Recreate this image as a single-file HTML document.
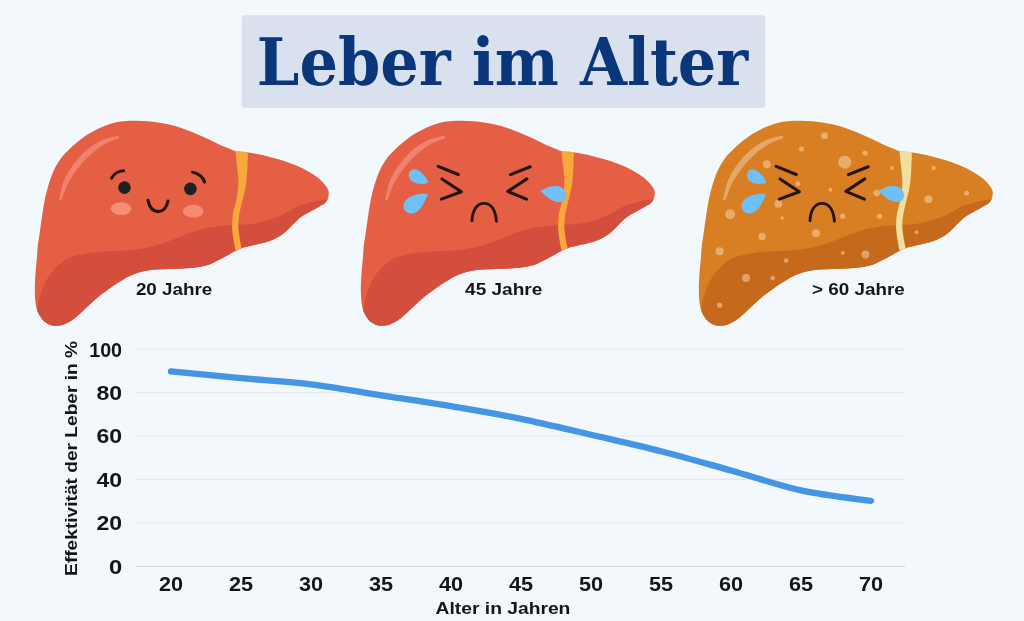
<!DOCTYPE html>
<html lang="de"><head><meta charset="utf-8"><title>Leber im Alter</title>
<style>html,body{margin:0;padding:0;background:#f3f8fd;}svg{display:block;}</style></head>
<body>
<svg width="1024" height="621" viewBox="0 0 1024 621">
<rect width="1024" height="621" fill="#f3f8fd"/>
<rect x="241.7" y="15.2" width="523.5" height="92.6" rx="3" fill="#d9e0ee"/>
<text x="256.8" y="85" font-family="'DejaVu Serif Condensed', 'DejaVu Serif', 'Liberation Serif', serif" font-weight="bold" font-size="65.5" fill="#0a377c" textLength="491.5" lengthAdjust="spacingAndGlyphs">Leber im Alter</text>
<g transform="translate(0 0)">
<clipPath id="c0"><path d="M46.9 190.8C47.8 187.4 48.5 184.8 49.5 181.8C50.5 178.8 51.5 175.5 52.7 172.7C53.9 169.9 55.3 167.3 56.6 165.0C57.9 162.7 59.2 160.7 60.5 159.0C61.8 157.3 62.1 156.7 64.1 154.6C66.0 152.5 69.5 149.1 72.2 146.6C74.9 144.1 77.5 141.8 80.2 139.7C82.9 137.6 85.6 135.8 88.3 134.1C91.0 132.4 93.6 131.0 96.3 129.7C99.0 128.3 101.7 127.1 104.4 126.0C107.1 124.9 109.8 123.9 112.4 123.2C115.0 122.5 117.7 122.0 120.0 121.6C122.3 121.2 123.7 121.1 126.0 120.9C128.3 120.8 130.1 120.7 133.7 120.7C137.2 120.8 142.8 120.8 147.3 121.2C151.9 121.6 156.9 122.4 161.0 123.1C165.1 123.8 168.8 124.5 172.0 125.3C175.2 126.0 177.3 126.7 180.0 127.6C182.7 128.5 185.3 129.5 188.0 130.5C190.7 131.5 193.4 132.6 196.1 133.7C198.8 134.8 201.4 136.1 204.1 137.3C206.8 138.5 209.5 139.8 212.2 141.1C214.9 142.4 217.5 143.7 220.2 144.9C222.9 146.1 225.8 147.2 228.3 148.2C230.9 149.2 232.4 150.3 235.5 151.0C238.6 151.7 242.7 151.6 246.8 152.2C250.9 152.8 256.2 153.8 260.0 154.6C263.8 155.4 266.5 156.2 269.7 157.0C272.9 157.8 276.1 158.5 279.3 159.4C282.5 160.3 285.8 161.5 289.0 162.7C292.2 163.9 295.4 165.1 298.6 166.5C301.8 167.9 305.1 169.5 308.3 171.4C311.5 173.3 315.4 175.7 318.0 177.7C320.6 179.7 322.2 181.6 323.8 183.4C325.4 185.2 326.8 186.8 327.6 188.5C328.4 190.2 328.8 191.5 328.8 193.3C328.8 195.1 328.3 197.4 327.6 199.1C326.9 200.8 326.0 202.0 324.7 203.2C323.4 204.4 322.1 204.8 319.7 206.2C317.2 207.6 313.0 210.0 310.0 211.7C307.0 213.4 304.2 214.6 301.6 216.5C299.0 218.4 296.5 221.0 294.3 223.1C292.1 225.2 290.5 227.2 288.3 229.2C286.1 231.2 284.1 233.3 281.1 235.2C278.1 237.1 274.6 239.1 270.2 240.7C265.8 242.3 259.4 243.7 255.0 244.8C250.6 245.9 246.8 246.5 243.5 247.5C240.2 248.5 238.5 249.3 235.3 250.9C232.1 252.5 228.5 254.9 224.4 257.1C220.3 259.3 215.3 262.2 210.7 263.9C206.1 265.6 201.6 266.5 197.0 267.3C192.4 268.1 188.0 268.3 183.4 268.6C178.8 268.9 174.3 268.7 169.7 268.9C165.1 269.1 160.6 269.2 156.0 269.6C151.4 270.1 146.9 270.5 142.3 271.6C137.8 272.7 132.5 274.6 128.7 276.4C124.8 278.1 122.4 280.1 119.2 282.1C116.0 284.1 112.7 286.1 109.5 288.4C106.3 290.6 103.1 293.0 99.9 295.6C96.7 298.2 93.2 301.4 90.2 304.1C87.2 306.8 84.6 309.4 81.8 311.9C79.0 314.4 76.1 317.2 73.3 319.2C70.5 321.2 67.5 322.9 64.9 324.0C62.3 325.1 60.0 325.6 57.6 325.8C55.2 326.0 52.7 325.8 50.4 325.0C48.1 324.2 45.6 322.8 43.7 321.0C41.8 319.2 40.2 316.8 38.9 314.3C37.6 311.8 36.8 308.9 36.1 305.9C35.5 302.9 35.2 299.8 35.0 296.2C34.8 292.6 34.8 288.2 34.9 284.2C35.0 280.2 35.3 276.1 35.6 272.1C35.9 268.1 36.3 264.5 36.7 260.0C37.1 255.5 37.5 248.6 37.9 245.0C38.3 241.4 38.5 241.5 38.9 238.5C39.3 235.5 39.9 231.0 40.5 226.9C41.1 222.8 41.8 218.1 42.4 214.0C43.0 209.9 43.5 206.3 44.3 202.4C45.0 198.5 46.0 194.2 46.9 190.8Z"/></clipPath>
<path d="M46.9 190.8C47.8 187.4 48.5 184.8 49.5 181.8C50.5 178.8 51.5 175.5 52.7 172.7C53.9 169.9 55.3 167.3 56.6 165.0C57.9 162.7 59.2 160.7 60.5 159.0C61.8 157.3 62.1 156.7 64.1 154.6C66.0 152.5 69.5 149.1 72.2 146.6C74.9 144.1 77.5 141.8 80.2 139.7C82.9 137.6 85.6 135.8 88.3 134.1C91.0 132.4 93.6 131.0 96.3 129.7C99.0 128.3 101.7 127.1 104.4 126.0C107.1 124.9 109.8 123.9 112.4 123.2C115.0 122.5 117.7 122.0 120.0 121.6C122.3 121.2 123.7 121.1 126.0 120.9C128.3 120.8 130.1 120.7 133.7 120.7C137.2 120.8 142.8 120.8 147.3 121.2C151.9 121.6 156.9 122.4 161.0 123.1C165.1 123.8 168.8 124.5 172.0 125.3C175.2 126.0 177.3 126.7 180.0 127.6C182.7 128.5 185.3 129.5 188.0 130.5C190.7 131.5 193.4 132.6 196.1 133.7C198.8 134.8 201.4 136.1 204.1 137.3C206.8 138.5 209.5 139.8 212.2 141.1C214.9 142.4 217.5 143.7 220.2 144.9C222.9 146.1 225.8 147.2 228.3 148.2C230.9 149.2 232.4 150.3 235.5 151.0C238.6 151.7 242.7 151.6 246.8 152.2C250.9 152.8 256.2 153.8 260.0 154.6C263.8 155.4 266.5 156.2 269.7 157.0C272.9 157.8 276.1 158.5 279.3 159.4C282.5 160.3 285.8 161.5 289.0 162.7C292.2 163.9 295.4 165.1 298.6 166.5C301.8 167.9 305.1 169.5 308.3 171.4C311.5 173.3 315.4 175.7 318.0 177.7C320.6 179.7 322.2 181.6 323.8 183.4C325.4 185.2 326.8 186.8 327.6 188.5C328.4 190.2 328.8 191.5 328.8 193.3C328.8 195.1 328.3 197.4 327.6 199.1C326.9 200.8 326.0 202.0 324.7 203.2C323.4 204.4 322.1 204.8 319.7 206.2C317.2 207.6 313.0 210.0 310.0 211.7C307.0 213.4 304.2 214.6 301.6 216.5C299.0 218.4 296.5 221.0 294.3 223.1C292.1 225.2 290.5 227.2 288.3 229.2C286.1 231.2 284.1 233.3 281.1 235.2C278.1 237.1 274.6 239.1 270.2 240.7C265.8 242.3 259.4 243.7 255.0 244.8C250.6 245.9 246.8 246.5 243.5 247.5C240.2 248.5 238.5 249.3 235.3 250.9C232.1 252.5 228.5 254.9 224.4 257.1C220.3 259.3 215.3 262.2 210.7 263.9C206.1 265.6 201.6 266.5 197.0 267.3C192.4 268.1 188.0 268.3 183.4 268.6C178.8 268.9 174.3 268.7 169.7 268.9C165.1 269.1 160.6 269.2 156.0 269.6C151.4 270.1 146.9 270.5 142.3 271.6C137.8 272.7 132.5 274.6 128.7 276.4C124.8 278.1 122.4 280.1 119.2 282.1C116.0 284.1 112.7 286.1 109.5 288.4C106.3 290.6 103.1 293.0 99.9 295.6C96.7 298.2 93.2 301.4 90.2 304.1C87.2 306.8 84.6 309.4 81.8 311.9C79.0 314.4 76.1 317.2 73.3 319.2C70.5 321.2 67.5 322.9 64.9 324.0C62.3 325.1 60.0 325.6 57.6 325.8C55.2 326.0 52.7 325.8 50.4 325.0C48.1 324.2 45.6 322.8 43.7 321.0C41.8 319.2 40.2 316.8 38.9 314.3C37.6 311.8 36.8 308.9 36.1 305.9C35.5 302.9 35.2 299.8 35.0 296.2C34.8 292.6 34.8 288.2 34.9 284.2C35.0 280.2 35.3 276.1 35.6 272.1C35.9 268.1 36.3 264.5 36.7 260.0C37.1 255.5 37.5 248.6 37.9 245.0C38.3 241.4 38.5 241.5 38.9 238.5C39.3 235.5 39.9 231.0 40.5 226.9C41.1 222.8 41.8 218.1 42.4 214.0C43.0 209.9 43.5 206.3 44.3 202.4C45.0 198.5 46.0 194.2 46.9 190.8Z" fill="#e45f44"/>
<g clip-path="url(#c0)">
<path d="M332.0 197.0C331.1 197.3 328.8 198.4 326.4 199.0C323.9 199.6 320.4 200.1 317.3 200.8C314.2 201.5 310.8 202.3 307.6 203.2C304.4 204.1 301.2 204.8 298.0 206.2C294.8 207.6 291.5 210.0 288.3 211.7C285.1 213.4 282.2 215.0 278.6 216.5C275.0 218.0 271.4 219.4 266.6 220.7C261.8 222.0 256.0 223.3 250.0 224.1C244.0 224.8 236.4 224.8 230.6 225.2C224.8 225.6 220.2 225.9 215.0 226.7C209.8 227.5 204.6 228.4 199.4 229.8C194.2 231.2 189.0 233.3 183.8 235.3C178.6 237.3 173.3 239.7 168.1 241.6C162.9 243.5 157.7 245.2 152.5 246.5C147.3 247.8 142.1 248.7 136.9 249.4C131.7 250.1 126.6 250.5 121.3 250.8C116.0 251.1 109.8 251.1 105.0 251.4C100.2 251.7 97.1 251.8 92.6 252.5C88.1 253.2 81.9 254.5 78.1 255.3C74.3 256.1 72.2 256.7 70.0 257.5C67.8 258.3 67.2 258.4 64.9 260.0C62.6 261.6 59.0 264.6 56.4 267.2C53.8 269.8 51.2 272.9 49.2 275.7C47.2 278.5 45.7 281.2 44.3 284.2C42.9 287.2 41.7 290.8 40.7 293.8C39.7 296.8 38.9 299.6 38.3 302.3C37.7 305.0 37.5 307.4 37.0 310.0C36.5 312.6 36.2 315.3 35.5 318.0C34.8 320.7 33.4 324.7 33.0 326.0L20 340L340 340Z" fill="#d34e3c"/>
<path d="M235.2 149.0C235.5 151.7 236.4 160.2 236.9 165.1C237.4 170.0 238.1 174.5 238.3 178.7C238.5 182.9 238.3 186.4 237.9 190.3C237.5 194.2 236.7 198.0 235.9 201.9C235.1 205.8 233.6 209.6 233.0 213.5C232.4 217.4 232.1 221.2 232.1 225.1C232.1 229.0 232.4 232.5 233.0 236.7C233.6 240.8 235.0 247.8 235.4 250.0L242.0 250.0C241.6 247.8 240.0 240.8 239.4 236.7C238.8 232.5 238.3 229.0 238.3 225.1C238.3 221.2 238.8 217.4 239.4 213.5C240.0 209.6 241.2 205.8 242.1 201.9C243.0 198.0 244.2 194.2 245.0 190.3C245.8 186.4 246.2 182.9 246.6 178.7C247.0 174.5 247.3 169.9 247.5 165.1C247.7 160.3 247.9 152.5 248.0 150.0Z" fill="#f9a83c"/>
<path d="M118.1 136.4C115.4 137.1 107.2 138.3 101.9 140.7C96.6 143.1 91.2 146.8 86.4 150.9C81.6 155.0 76.9 160.5 73.2 165.5C69.5 170.5 66.6 175.2 64.4 180.9C62.1 186.6 60.5 196.5 59.7 199.6L60.9 200.0C62.0 197.1 65.1 187.8 67.8 182.5C70.5 177.2 73.4 173.0 77.0 168.3C80.6 163.7 85.1 158.5 89.6 154.5C94.0 150.5 98.9 146.9 103.7 144.1C108.5 141.3 116.0 138.7 118.5 137.6Z" fill="#f0826f" stroke="#f0826f" stroke-width="1.2" stroke-linejoin="round"/>
</g>
<g fill="none" stroke="#25130f" stroke-width="3.1" stroke-linecap="round">
<path d="M111.6 178.2C113.5 174 118.5 171 123.6 170.8"/>
<path d="M192.6 172.2C198 173 203 177 204.6 182"/>
<path d="M148 200.4C149.5 208 153 211.6 158 211.6C163 211.6 166.5 208 168 201"/>
</g>
<circle cx="124.5" cy="187.6" r="6.3" fill="#1b2224"/>
<circle cx="190.4" cy="188.9" r="6.3" fill="#1b2224"/>
<ellipse cx="121.1" cy="208.6" rx="10.3" ry="6.4" fill="#f58d79"/>
<ellipse cx="193.2" cy="211.2" rx="10.3" ry="6.4" fill="#f78b72"/>
</g>

<g transform="translate(326 0)">
<clipPath id="c326"><path d="M46.9 190.8C47.8 187.4 48.5 184.8 49.5 181.8C50.5 178.8 51.5 175.5 52.7 172.7C53.9 169.9 55.3 167.3 56.6 165.0C57.9 162.7 59.2 160.7 60.5 159.0C61.8 157.3 62.1 156.7 64.1 154.6C66.0 152.5 69.5 149.1 72.2 146.6C74.9 144.1 77.5 141.8 80.2 139.7C82.9 137.6 85.6 135.8 88.3 134.1C91.0 132.4 93.6 131.0 96.3 129.7C99.0 128.3 101.7 127.1 104.4 126.0C107.1 124.9 109.8 123.9 112.4 123.2C115.0 122.5 117.7 122.0 120.0 121.6C122.3 121.2 123.7 121.1 126.0 120.9C128.3 120.8 130.1 120.7 133.7 120.7C137.2 120.8 142.8 120.8 147.3 121.2C151.9 121.6 156.9 122.4 161.0 123.1C165.1 123.8 168.8 124.5 172.0 125.3C175.2 126.0 177.3 126.7 180.0 127.6C182.7 128.5 185.3 129.5 188.0 130.5C190.7 131.5 193.4 132.6 196.1 133.7C198.8 134.8 201.4 136.1 204.1 137.3C206.8 138.5 209.5 139.8 212.2 141.1C214.9 142.4 217.5 143.7 220.2 144.9C222.9 146.1 225.8 147.2 228.3 148.2C230.9 149.2 232.4 150.3 235.5 151.0C238.6 151.7 242.7 151.6 246.8 152.2C250.9 152.8 256.2 153.8 260.0 154.6C263.8 155.4 266.5 156.2 269.7 157.0C272.9 157.8 276.1 158.5 279.3 159.4C282.5 160.3 285.8 161.5 289.0 162.7C292.2 163.9 295.4 165.1 298.6 166.5C301.8 167.9 305.1 169.5 308.3 171.4C311.5 173.3 315.4 175.7 318.0 177.7C320.6 179.7 322.2 181.6 323.8 183.4C325.4 185.2 326.8 186.8 327.6 188.5C328.4 190.2 328.8 191.5 328.8 193.3C328.8 195.1 328.3 197.4 327.6 199.1C326.9 200.8 326.0 202.0 324.7 203.2C323.4 204.4 322.1 204.8 319.7 206.2C317.2 207.6 313.0 210.0 310.0 211.7C307.0 213.4 304.2 214.6 301.6 216.5C299.0 218.4 296.5 221.0 294.3 223.1C292.1 225.2 290.5 227.2 288.3 229.2C286.1 231.2 284.1 233.3 281.1 235.2C278.1 237.1 274.6 239.1 270.2 240.7C265.8 242.3 259.4 243.7 255.0 244.8C250.6 245.9 246.8 246.5 243.5 247.5C240.2 248.5 238.5 249.3 235.3 250.9C232.1 252.5 228.5 254.9 224.4 257.1C220.3 259.3 215.3 262.2 210.7 263.9C206.1 265.6 201.6 266.5 197.0 267.3C192.4 268.1 188.0 268.3 183.4 268.6C178.8 268.9 174.3 268.7 169.7 268.9C165.1 269.1 160.6 269.2 156.0 269.6C151.4 270.1 146.9 270.5 142.3 271.6C137.8 272.7 132.5 274.6 128.7 276.4C124.8 278.1 122.4 280.1 119.2 282.1C116.0 284.1 112.7 286.1 109.5 288.4C106.3 290.6 103.1 293.0 99.9 295.6C96.7 298.2 93.2 301.4 90.2 304.1C87.2 306.8 84.6 309.4 81.8 311.9C79.0 314.4 76.1 317.2 73.3 319.2C70.5 321.2 67.5 322.9 64.9 324.0C62.3 325.1 60.0 325.6 57.6 325.8C55.2 326.0 52.7 325.8 50.4 325.0C48.1 324.2 45.6 322.8 43.7 321.0C41.8 319.2 40.2 316.8 38.9 314.3C37.6 311.8 36.8 308.9 36.1 305.9C35.5 302.9 35.2 299.8 35.0 296.2C34.8 292.6 34.8 288.2 34.9 284.2C35.0 280.2 35.3 276.1 35.6 272.1C35.9 268.1 36.3 264.5 36.7 260.0C37.1 255.5 37.5 248.6 37.9 245.0C38.3 241.4 38.5 241.5 38.9 238.5C39.3 235.5 39.9 231.0 40.5 226.9C41.1 222.8 41.8 218.1 42.4 214.0C43.0 209.9 43.5 206.3 44.3 202.4C45.0 198.5 46.0 194.2 46.9 190.8Z"/></clipPath>
<path d="M46.9 190.8C47.8 187.4 48.5 184.8 49.5 181.8C50.5 178.8 51.5 175.5 52.7 172.7C53.9 169.9 55.3 167.3 56.6 165.0C57.9 162.7 59.2 160.7 60.5 159.0C61.8 157.3 62.1 156.7 64.1 154.6C66.0 152.5 69.5 149.1 72.2 146.6C74.9 144.1 77.5 141.8 80.2 139.7C82.9 137.6 85.6 135.8 88.3 134.1C91.0 132.4 93.6 131.0 96.3 129.7C99.0 128.3 101.7 127.1 104.4 126.0C107.1 124.9 109.8 123.9 112.4 123.2C115.0 122.5 117.7 122.0 120.0 121.6C122.3 121.2 123.7 121.1 126.0 120.9C128.3 120.8 130.1 120.7 133.7 120.7C137.2 120.8 142.8 120.8 147.3 121.2C151.9 121.6 156.9 122.4 161.0 123.1C165.1 123.8 168.8 124.5 172.0 125.3C175.2 126.0 177.3 126.7 180.0 127.6C182.7 128.5 185.3 129.5 188.0 130.5C190.7 131.5 193.4 132.6 196.1 133.7C198.8 134.8 201.4 136.1 204.1 137.3C206.8 138.5 209.5 139.8 212.2 141.1C214.9 142.4 217.5 143.7 220.2 144.9C222.9 146.1 225.8 147.2 228.3 148.2C230.9 149.2 232.4 150.3 235.5 151.0C238.6 151.7 242.7 151.6 246.8 152.2C250.9 152.8 256.2 153.8 260.0 154.6C263.8 155.4 266.5 156.2 269.7 157.0C272.9 157.8 276.1 158.5 279.3 159.4C282.5 160.3 285.8 161.5 289.0 162.7C292.2 163.9 295.4 165.1 298.6 166.5C301.8 167.9 305.1 169.5 308.3 171.4C311.5 173.3 315.4 175.7 318.0 177.7C320.6 179.7 322.2 181.6 323.8 183.4C325.4 185.2 326.8 186.8 327.6 188.5C328.4 190.2 328.8 191.5 328.8 193.3C328.8 195.1 328.3 197.4 327.6 199.1C326.9 200.8 326.0 202.0 324.7 203.2C323.4 204.4 322.1 204.8 319.7 206.2C317.2 207.6 313.0 210.0 310.0 211.7C307.0 213.4 304.2 214.6 301.6 216.5C299.0 218.4 296.5 221.0 294.3 223.1C292.1 225.2 290.5 227.2 288.3 229.2C286.1 231.2 284.1 233.3 281.1 235.2C278.1 237.1 274.6 239.1 270.2 240.7C265.8 242.3 259.4 243.7 255.0 244.8C250.6 245.9 246.8 246.5 243.5 247.5C240.2 248.5 238.5 249.3 235.3 250.9C232.1 252.5 228.5 254.9 224.4 257.1C220.3 259.3 215.3 262.2 210.7 263.9C206.1 265.6 201.6 266.5 197.0 267.3C192.4 268.1 188.0 268.3 183.4 268.6C178.8 268.9 174.3 268.7 169.7 268.9C165.1 269.1 160.6 269.2 156.0 269.6C151.4 270.1 146.9 270.5 142.3 271.6C137.8 272.7 132.5 274.6 128.7 276.4C124.8 278.1 122.4 280.1 119.2 282.1C116.0 284.1 112.7 286.1 109.5 288.4C106.3 290.6 103.1 293.0 99.9 295.6C96.7 298.2 93.2 301.4 90.2 304.1C87.2 306.8 84.6 309.4 81.8 311.9C79.0 314.4 76.1 317.2 73.3 319.2C70.5 321.2 67.5 322.9 64.9 324.0C62.3 325.1 60.0 325.6 57.6 325.8C55.2 326.0 52.7 325.8 50.4 325.0C48.1 324.2 45.6 322.8 43.7 321.0C41.8 319.2 40.2 316.8 38.9 314.3C37.6 311.8 36.8 308.9 36.1 305.9C35.5 302.9 35.2 299.8 35.0 296.2C34.8 292.6 34.8 288.2 34.9 284.2C35.0 280.2 35.3 276.1 35.6 272.1C35.9 268.1 36.3 264.5 36.7 260.0C37.1 255.5 37.5 248.6 37.9 245.0C38.3 241.4 38.5 241.5 38.9 238.5C39.3 235.5 39.9 231.0 40.5 226.9C41.1 222.8 41.8 218.1 42.4 214.0C43.0 209.9 43.5 206.3 44.3 202.4C45.0 198.5 46.0 194.2 46.9 190.8Z" fill="#e45f44"/>
<g clip-path="url(#c326)">
<path d="M332.0 197.0C331.1 197.3 328.8 198.4 326.4 199.0C323.9 199.6 320.4 200.1 317.3 200.8C314.2 201.5 310.8 202.3 307.6 203.2C304.4 204.1 301.2 204.8 298.0 206.2C294.8 207.6 291.5 210.0 288.3 211.7C285.1 213.4 282.2 215.0 278.6 216.5C275.0 218.0 271.4 219.4 266.6 220.7C261.8 222.0 256.0 223.3 250.0 224.1C244.0 224.8 236.4 224.8 230.6 225.2C224.8 225.6 220.2 225.9 215.0 226.7C209.8 227.5 204.6 228.4 199.4 229.8C194.2 231.2 189.0 233.3 183.8 235.3C178.6 237.3 173.3 239.7 168.1 241.6C162.9 243.5 157.7 245.2 152.5 246.5C147.3 247.8 142.1 248.7 136.9 249.4C131.7 250.1 126.6 250.5 121.3 250.8C116.0 251.1 109.8 251.1 105.0 251.4C100.2 251.7 97.1 251.8 92.6 252.5C88.1 253.2 81.9 254.5 78.1 255.3C74.3 256.1 72.2 256.7 70.0 257.5C67.8 258.3 67.2 258.4 64.9 260.0C62.6 261.6 59.0 264.6 56.4 267.2C53.8 269.8 51.2 272.9 49.2 275.7C47.2 278.5 45.7 281.2 44.3 284.2C42.9 287.2 41.7 290.8 40.7 293.8C39.7 296.8 38.9 299.6 38.3 302.3C37.7 305.0 37.5 307.4 37.0 310.0C36.5 312.6 36.2 315.3 35.5 318.0C34.8 320.7 33.4 324.7 33.0 326.0L20 340L340 340Z" fill="#d34e3c"/>
<path d="M235.2 149.0C235.5 151.7 236.4 160.2 236.9 165.1C237.4 170.0 238.1 174.5 238.3 178.7C238.5 182.9 238.3 186.4 237.9 190.3C237.5 194.2 236.7 198.0 235.9 201.9C235.1 205.8 233.6 209.6 233.0 213.5C232.4 217.4 232.1 221.2 232.1 225.1C232.1 229.0 232.4 232.5 233.0 236.7C233.6 240.8 235.0 247.8 235.4 250.0L242.0 250.0C241.6 247.8 240.0 240.8 239.4 236.7C238.8 232.5 238.3 229.0 238.3 225.1C238.3 221.2 238.8 217.4 239.4 213.5C240.0 209.6 241.2 205.8 242.1 201.9C243.0 198.0 244.2 194.2 245.0 190.3C245.8 186.4 246.2 182.9 246.6 178.7C247.0 174.5 247.3 169.9 247.5 165.1C247.7 160.3 247.9 152.5 248.0 150.0Z" fill="#f9a83c"/>
<path d="M118.1 136.4C115.4 137.1 107.2 138.3 101.9 140.7C96.6 143.1 91.2 146.8 86.4 150.9C81.6 155.0 76.9 160.5 73.2 165.5C69.5 170.5 66.6 175.2 64.4 180.9C62.1 186.6 60.5 196.5 59.7 199.6L60.9 200.0C62.0 197.1 65.1 187.8 67.8 182.5C70.5 177.2 73.4 173.0 77.0 168.3C80.6 163.7 85.1 158.5 89.6 154.5C94.0 150.5 98.9 146.9 103.7 144.1C108.5 141.3 116.0 138.7 118.5 137.6Z" fill="#f0826f" stroke="#f0826f" stroke-width="1.2" stroke-linejoin="round"/>
</g>
<g transform="translate(-326 0)">
<g fill="none" stroke="#25130f" stroke-width="3.1" stroke-linecap="round" stroke-linejoin="round">
<path d="M438.2 166.4L458.3 174.5"/>
<path d="M442 179L461.3 191.8L441.5 199.1"/>
<path d="M530.2 166.8L510.5 174.6"/>
<path d="M526.8 178.9L507.8 191.4L526.4 199.1"/>
<path d="M472 220.8C472.5 210 477 203.4 484 203.4C491 203.4 495.5 210 496.4 221.2" stroke-width="2.9"/>
</g>
<path d="M428.3 182.7C424 184.5 416 184.5 411.5 181C407.5 177.5 408 171.5 412.5 169.6C417.5 167.8 425 174 428.3 182.7Z" fill="#6ec0f6"/>
<path d="M427.9 194.3C421 192.8 411 195 406 200C401.5 205 403 211.5 409 213.2C415 215 420 210 423 204.5C425 201 427 197 427.9 194.3Z" fill="#6ec0f6"/>
<path d="M540.4 190.9C545 187.5 552 185.5 557 186C563 186.8 566.5 191.5 566 196.5C565.5 201 561 203 556 201.8C550 200 544.5 195 540.4 190.9Z" fill="#6ec0f6"/>
</g>
</g>

<g transform="translate(664 0)">
<clipPath id="c664"><path d="M46.9 190.8C47.8 187.4 48.5 184.8 49.5 181.8C50.5 178.8 51.5 175.5 52.7 172.7C53.9 169.9 55.3 167.3 56.6 165.0C57.9 162.7 59.2 160.7 60.5 159.0C61.8 157.3 62.1 156.7 64.1 154.6C66.0 152.5 69.5 149.1 72.2 146.6C74.9 144.1 77.5 141.8 80.2 139.7C82.9 137.6 85.6 135.8 88.3 134.1C91.0 132.4 93.6 131.0 96.3 129.7C99.0 128.3 101.7 127.1 104.4 126.0C107.1 124.9 109.8 123.9 112.4 123.2C115.0 122.5 117.7 122.0 120.0 121.6C122.3 121.2 123.7 121.1 126.0 120.9C128.3 120.8 130.1 120.7 133.7 120.7C137.2 120.8 142.8 120.8 147.3 121.2C151.9 121.6 156.9 122.4 161.0 123.1C165.1 123.8 168.8 124.5 172.0 125.3C175.2 126.0 177.3 126.7 180.0 127.6C182.7 128.5 185.3 129.5 188.0 130.5C190.7 131.5 193.4 132.6 196.1 133.7C198.8 134.8 201.4 136.1 204.1 137.3C206.8 138.5 209.5 139.8 212.2 141.1C214.9 142.4 217.5 143.7 220.2 144.9C222.9 146.1 225.8 147.2 228.3 148.2C230.9 149.2 232.4 150.3 235.5 151.0C238.6 151.7 242.7 151.6 246.8 152.2C250.9 152.8 256.2 153.8 260.0 154.6C263.8 155.4 266.5 156.2 269.7 157.0C272.9 157.8 276.1 158.5 279.3 159.4C282.5 160.3 285.8 161.5 289.0 162.7C292.2 163.9 295.4 165.1 298.6 166.5C301.8 167.9 305.1 169.5 308.3 171.4C311.5 173.3 315.4 175.7 318.0 177.7C320.6 179.7 322.2 181.6 323.8 183.4C325.4 185.2 326.8 186.8 327.6 188.5C328.4 190.2 328.8 191.5 328.8 193.3C328.8 195.1 328.3 197.4 327.6 199.1C326.9 200.8 326.0 202.0 324.7 203.2C323.4 204.4 322.1 204.8 319.7 206.2C317.2 207.6 313.0 210.0 310.0 211.7C307.0 213.4 304.2 214.6 301.6 216.5C299.0 218.4 296.5 221.0 294.3 223.1C292.1 225.2 290.5 227.2 288.3 229.2C286.1 231.2 284.1 233.3 281.1 235.2C278.1 237.1 274.6 239.1 270.2 240.7C265.8 242.3 259.4 243.7 255.0 244.8C250.6 245.9 246.8 246.5 243.5 247.5C240.2 248.5 238.5 249.3 235.3 250.9C232.1 252.5 228.5 254.9 224.4 257.1C220.3 259.3 215.3 262.2 210.7 263.9C206.1 265.6 201.6 266.5 197.0 267.3C192.4 268.1 188.0 268.3 183.4 268.6C178.8 268.9 174.3 268.7 169.7 268.9C165.1 269.1 160.6 269.2 156.0 269.6C151.4 270.1 146.9 270.5 142.3 271.6C137.8 272.7 132.5 274.6 128.7 276.4C124.8 278.1 122.4 280.1 119.2 282.1C116.0 284.1 112.7 286.1 109.5 288.4C106.3 290.6 103.1 293.0 99.9 295.6C96.7 298.2 93.2 301.4 90.2 304.1C87.2 306.8 84.6 309.4 81.8 311.9C79.0 314.4 76.1 317.2 73.3 319.2C70.5 321.2 67.5 322.9 64.9 324.0C62.3 325.1 60.0 325.6 57.6 325.8C55.2 326.0 52.7 325.8 50.4 325.0C48.1 324.2 45.6 322.8 43.7 321.0C41.8 319.2 40.2 316.8 38.9 314.3C37.6 311.8 36.8 308.9 36.1 305.9C35.5 302.9 35.2 299.8 35.0 296.2C34.8 292.6 34.8 288.2 34.9 284.2C35.0 280.2 35.3 276.1 35.6 272.1C35.9 268.1 36.3 264.5 36.7 260.0C37.1 255.5 37.5 248.6 37.9 245.0C38.3 241.4 38.5 241.5 38.9 238.5C39.3 235.5 39.9 231.0 40.5 226.9C41.1 222.8 41.8 218.1 42.4 214.0C43.0 209.9 43.5 206.3 44.3 202.4C45.0 198.5 46.0 194.2 46.9 190.8Z"/></clipPath>
<path d="M46.9 190.8C47.8 187.4 48.5 184.8 49.5 181.8C50.5 178.8 51.5 175.5 52.7 172.7C53.9 169.9 55.3 167.3 56.6 165.0C57.9 162.7 59.2 160.7 60.5 159.0C61.8 157.3 62.1 156.7 64.1 154.6C66.0 152.5 69.5 149.1 72.2 146.6C74.9 144.1 77.5 141.8 80.2 139.7C82.9 137.6 85.6 135.8 88.3 134.1C91.0 132.4 93.6 131.0 96.3 129.7C99.0 128.3 101.7 127.1 104.4 126.0C107.1 124.9 109.8 123.9 112.4 123.2C115.0 122.5 117.7 122.0 120.0 121.6C122.3 121.2 123.7 121.1 126.0 120.9C128.3 120.8 130.1 120.7 133.7 120.7C137.2 120.8 142.8 120.8 147.3 121.2C151.9 121.6 156.9 122.4 161.0 123.1C165.1 123.8 168.8 124.5 172.0 125.3C175.2 126.0 177.3 126.7 180.0 127.6C182.7 128.5 185.3 129.5 188.0 130.5C190.7 131.5 193.4 132.6 196.1 133.7C198.8 134.8 201.4 136.1 204.1 137.3C206.8 138.5 209.5 139.8 212.2 141.1C214.9 142.4 217.5 143.7 220.2 144.9C222.9 146.1 225.8 147.2 228.3 148.2C230.9 149.2 232.4 150.3 235.5 151.0C238.6 151.7 242.7 151.6 246.8 152.2C250.9 152.8 256.2 153.8 260.0 154.6C263.8 155.4 266.5 156.2 269.7 157.0C272.9 157.8 276.1 158.5 279.3 159.4C282.5 160.3 285.8 161.5 289.0 162.7C292.2 163.9 295.4 165.1 298.6 166.5C301.8 167.9 305.1 169.5 308.3 171.4C311.5 173.3 315.4 175.7 318.0 177.7C320.6 179.7 322.2 181.6 323.8 183.4C325.4 185.2 326.8 186.8 327.6 188.5C328.4 190.2 328.8 191.5 328.8 193.3C328.8 195.1 328.3 197.4 327.6 199.1C326.9 200.8 326.0 202.0 324.7 203.2C323.4 204.4 322.1 204.8 319.7 206.2C317.2 207.6 313.0 210.0 310.0 211.7C307.0 213.4 304.2 214.6 301.6 216.5C299.0 218.4 296.5 221.0 294.3 223.1C292.1 225.2 290.5 227.2 288.3 229.2C286.1 231.2 284.1 233.3 281.1 235.2C278.1 237.1 274.6 239.1 270.2 240.7C265.8 242.3 259.4 243.7 255.0 244.8C250.6 245.9 246.8 246.5 243.5 247.5C240.2 248.5 238.5 249.3 235.3 250.9C232.1 252.5 228.5 254.9 224.4 257.1C220.3 259.3 215.3 262.2 210.7 263.9C206.1 265.6 201.6 266.5 197.0 267.3C192.4 268.1 188.0 268.3 183.4 268.6C178.8 268.9 174.3 268.7 169.7 268.9C165.1 269.1 160.6 269.2 156.0 269.6C151.4 270.1 146.9 270.5 142.3 271.6C137.8 272.7 132.5 274.6 128.7 276.4C124.8 278.1 122.4 280.1 119.2 282.1C116.0 284.1 112.7 286.1 109.5 288.4C106.3 290.6 103.1 293.0 99.9 295.6C96.7 298.2 93.2 301.4 90.2 304.1C87.2 306.8 84.6 309.4 81.8 311.9C79.0 314.4 76.1 317.2 73.3 319.2C70.5 321.2 67.5 322.9 64.9 324.0C62.3 325.1 60.0 325.6 57.6 325.8C55.2 326.0 52.7 325.8 50.4 325.0C48.1 324.2 45.6 322.8 43.7 321.0C41.8 319.2 40.2 316.8 38.9 314.3C37.6 311.8 36.8 308.9 36.1 305.9C35.5 302.9 35.2 299.8 35.0 296.2C34.8 292.6 34.8 288.2 34.9 284.2C35.0 280.2 35.3 276.1 35.6 272.1C35.9 268.1 36.3 264.5 36.7 260.0C37.1 255.5 37.5 248.6 37.9 245.0C38.3 241.4 38.5 241.5 38.9 238.5C39.3 235.5 39.9 231.0 40.5 226.9C41.1 222.8 41.8 218.1 42.4 214.0C43.0 209.9 43.5 206.3 44.3 202.4C45.0 198.5 46.0 194.2 46.9 190.8Z" fill="#d97f23"/>
<g clip-path="url(#c664)">
<path d="M332.0 197.0C331.1 197.3 328.8 198.4 326.4 199.0C323.9 199.6 320.4 200.1 317.3 200.8C314.2 201.5 310.8 202.3 307.6 203.2C304.4 204.1 301.2 204.8 298.0 206.2C294.8 207.6 291.5 210.0 288.3 211.7C285.1 213.4 282.2 215.0 278.6 216.5C275.0 218.0 271.4 219.4 266.6 220.7C261.8 222.0 256.0 223.3 250.0 224.1C244.0 224.8 236.4 224.8 230.6 225.2C224.8 225.6 220.2 225.9 215.0 226.7C209.8 227.5 204.6 228.4 199.4 229.8C194.2 231.2 189.0 233.3 183.8 235.3C178.6 237.3 173.3 239.7 168.1 241.6C162.9 243.5 157.7 245.2 152.5 246.5C147.3 247.8 142.1 248.7 136.9 249.4C131.7 250.1 126.6 250.5 121.3 250.8C116.0 251.1 109.8 251.1 105.0 251.4C100.2 251.7 97.1 251.8 92.6 252.5C88.1 253.2 81.9 254.5 78.1 255.3C74.3 256.1 72.2 256.7 70.0 257.5C67.8 258.3 67.2 258.4 64.9 260.0C62.6 261.6 59.0 264.6 56.4 267.2C53.8 269.8 51.2 272.9 49.2 275.7C47.2 278.5 45.7 281.2 44.3 284.2C42.9 287.2 41.7 290.8 40.7 293.8C39.7 296.8 38.9 299.6 38.3 302.3C37.7 305.0 37.5 307.4 37.0 310.0C36.5 312.6 36.2 315.3 35.5 318.0C34.8 320.7 33.4 324.7 33.0 326.0L20 340L340 340Z" fill="#c5691c"/>
<path d="M235.2 149.0C235.5 151.7 236.4 160.2 236.9 165.1C237.4 170.0 238.1 174.5 238.3 178.7C238.5 182.9 238.3 186.4 237.9 190.3C237.5 194.2 236.7 198.0 235.9 201.9C235.1 205.8 233.6 209.6 233.0 213.5C232.4 217.4 232.1 221.2 232.1 225.1C232.1 229.0 232.4 232.5 233.0 236.7C233.6 240.8 235.0 247.8 235.4 250.0L242.0 250.0C241.6 247.8 240.0 240.8 239.4 236.7C238.8 232.5 238.3 229.0 238.3 225.1C238.3 221.2 238.8 217.4 239.4 213.5C240.0 209.6 241.2 205.8 242.1 201.9C243.0 198.0 244.2 194.2 245.0 190.3C245.8 186.4 246.2 182.9 246.6 178.7C247.0 174.5 247.3 169.9 247.5 165.1C247.7 160.3 247.9 152.5 248.0 150.0Z" fill="#f1dfa0"/>
<path d="M118.1 136.4C115.4 137.1 107.2 138.3 101.9 140.7C96.6 143.1 91.2 146.8 86.4 150.9C81.6 155.0 76.9 160.5 73.2 165.5C69.5 170.5 66.6 175.2 64.4 180.9C62.1 186.6 60.5 196.5 59.7 199.6L60.9 200.0C62.0 197.1 65.1 187.8 67.8 182.5C70.5 177.2 73.4 173.0 77.0 168.3C80.6 163.7 85.1 158.5 89.6 154.5C94.0 150.5 98.9 146.9 103.7 144.1C108.5 141.3 116.0 138.7 118.5 137.6Z" fill="#e6a868" stroke="#e6a868" stroke-width="1.2" stroke-linejoin="round"/>
<circle cx="160.5" cy="135.8" r="3.5" fill="#f7d0a8" fill-opacity="0.55"/>
<circle cx="137.5" cy="149.0" r="2.5" fill="#f7d0a8" fill-opacity="0.55"/>
<circle cx="201.1" cy="153.1" r="2.7" fill="#f7d0a8" fill-opacity="0.55"/>
<circle cx="180.8" cy="162.2" r="6.5" fill="#f7d0a8" fill-opacity="0.55"/>
<circle cx="102.8" cy="164.2" r="4.0" fill="#f7d0a8" fill-opacity="0.55"/>
<circle cx="228.2" cy="168.0" r="2.0" fill="#f7d0a8" fill-opacity="0.55"/>
<circle cx="269.7" cy="168.0" r="2.2" fill="#f7d0a8" fill-opacity="0.55"/>
<circle cx="133.9" cy="183.7" r="2.5" fill="#f7d0a8" fill-opacity="0.55"/>
<circle cx="166.5" cy="189.7" r="2.0" fill="#f7d0a8" fill-opacity="0.55"/>
<circle cx="212.7" cy="193.1" r="3.3" fill="#f7d0a8" fill-opacity="0.55"/>
<circle cx="302.6" cy="193.1" r="2.5" fill="#f7d0a8" fill-opacity="0.55"/>
<circle cx="264.5" cy="199.3" r="4.0" fill="#f7d0a8" fill-opacity="0.55"/>
<circle cx="114.4" cy="203.8" r="4.0" fill="#f7d0a8" fill-opacity="0.55"/>
<circle cx="66.2" cy="214.3" r="5.0" fill="#f7d0a8" fill-opacity="0.55"/>
<circle cx="118.2" cy="218.1" r="1.8" fill="#f7d0a8" fill-opacity="0.55"/>
<circle cx="178.7" cy="216.2" r="2.7" fill="#f7d0a8" fill-opacity="0.55"/>
<circle cx="215.6" cy="216.3" r="2.7" fill="#f7d0a8" fill-opacity="0.55"/>
<circle cx="152.0" cy="233.2" r="4.0" fill="#f7d0a8" fill-opacity="0.55"/>
<circle cx="98.1" cy="236.5" r="3.7" fill="#f7d0a8" fill-opacity="0.55"/>
<circle cx="252.5" cy="232.2" r="2.0" fill="#f7d0a8" fill-opacity="0.55"/>
<circle cx="55.6" cy="251.2" r="4.0" fill="#f7d0a8" fill-opacity="0.55"/>
<circle cx="178.7" cy="252.9" r="2.0" fill="#f7d0a8" fill-opacity="0.55"/>
<circle cx="201.5" cy="254.5" r="4.0" fill="#f7d0a8" fill-opacity="0.55"/>
<circle cx="122.2" cy="260.6" r="2.3" fill="#f7d0a8" fill-opacity="0.55"/>
<circle cx="82.0" cy="278.0" r="4.0" fill="#f7d0a8" fill-opacity="0.55"/>
<circle cx="108.7" cy="278.0" r="2.3" fill="#f7d0a8" fill-opacity="0.55"/>
<circle cx="55.6" cy="305.3" r="2.7" fill="#f7d0a8" fill-opacity="0.55"/>
</g>
<g transform="translate(-326 0)">
<g fill="none" stroke="#25130f" stroke-width="3.1" stroke-linecap="round" stroke-linejoin="round">
<path d="M438.2 166.4L458.3 174.5"/>
<path d="M442 179L461.3 191.8L441.5 199.1"/>
<path d="M530.2 166.8L510.5 174.6"/>
<path d="M526.8 178.9L507.8 191.4L526.4 199.1"/>
<path d="M472 220.8C472.5 210 477 203.4 484 203.4C491 203.4 495.5 210 496.4 221.2" stroke-width="2.9"/>
</g>
<path d="M428.3 182.7C424 184.5 416 184.5 411.5 181C407.5 177.5 408 171.5 412.5 169.6C417.5 167.8 425 174 428.3 182.7Z" fill="#6ec0f6"/>
<path d="M427.9 194.3C421 192.8 411 195 406 200C401.5 205 403 211.5 409 213.2C415 215 420 210 423 204.5C425 201 427 197 427.9 194.3Z" fill="#6ec0f6"/>
<path d="M540.4 190.9C545 187.5 552 185.5 557 186C563 186.8 566.5 191.5 566 196.5C565.5 201 561 203 556 201.8C550 200 544.5 195 540.4 190.9Z" fill="#6ec0f6"/>
</g>
</g>

<text x="135.9" y="295" font-family="'Liberation Sans', sans-serif" font-weight="bold" font-size="17" fill="#14141a" textLength="76.4" lengthAdjust="spacingAndGlyphs">20 Jahre</text>
<text x="465.1" y="295" font-family="'Liberation Sans', sans-serif" font-weight="bold" font-size="17" fill="#14141a" textLength="77.2" lengthAdjust="spacingAndGlyphs">45 Jahre</text>
<text x="812.1" y="295" font-family="'Liberation Sans', sans-serif" font-weight="bold" font-size="17" fill="#14141a" textLength="92.6" lengthAdjust="spacingAndGlyphs">&gt; 60 Jahre</text>
<line x1="136" x2="905" y1="566.2" y2="566.2" stroke="#c9d0d9" stroke-width="1.1"/>
<text x="122.1" y="573.5" text-anchor="end" font-family="'Liberation Sans', sans-serif" font-weight="bold" font-size="19.6" fill="#14141a" textLength="13.2" lengthAdjust="spacingAndGlyphs">0</text>
<line x1="136" x2="905" y1="522.8" y2="522.8" stroke="#e4e9ef" stroke-width="1.1"/>
<text x="122.1" y="530.1" text-anchor="end" font-family="'Liberation Sans', sans-serif" font-weight="bold" font-size="19.6" fill="#14141a" textLength="25.6" lengthAdjust="spacingAndGlyphs">20</text>
<line x1="136" x2="905" y1="479.4" y2="479.4" stroke="#e4e9ef" stroke-width="1.1"/>
<text x="122.1" y="486.7" text-anchor="end" font-family="'Liberation Sans', sans-serif" font-weight="bold" font-size="19.6" fill="#14141a" textLength="25.6" lengthAdjust="spacingAndGlyphs">40</text>
<line x1="136" x2="905" y1="436.0" y2="436.0" stroke="#e4e9ef" stroke-width="1.1"/>
<text x="122.1" y="443.3" text-anchor="end" font-family="'Liberation Sans', sans-serif" font-weight="bold" font-size="19.6" fill="#14141a" textLength="25.6" lengthAdjust="spacingAndGlyphs">60</text>
<line x1="136" x2="905" y1="392.6" y2="392.6" stroke="#e4e9ef" stroke-width="1.1"/>
<text x="122.1" y="399.9" text-anchor="end" font-family="'Liberation Sans', sans-serif" font-weight="bold" font-size="19.6" fill="#14141a" textLength="25.6" lengthAdjust="spacingAndGlyphs">80</text>
<line x1="136" x2="905" y1="349.2" y2="349.2" stroke="#e4e9ef" stroke-width="1.1"/>
<text x="122.1" y="356.5" text-anchor="end" font-family="'Liberation Sans', sans-serif" font-weight="bold" font-size="19.6" fill="#14141a" textLength="32.9" lengthAdjust="spacingAndGlyphs">100</text>
<text x="171.1" y="590.6" text-anchor="middle" font-family="'Liberation Sans', sans-serif" font-weight="bold" font-size="19.6" fill="#14141a" textLength="24.1" lengthAdjust="spacingAndGlyphs">20</text>
<text x="241.1" y="590.6" text-anchor="middle" font-family="'Liberation Sans', sans-serif" font-weight="bold" font-size="19.6" fill="#14141a" textLength="24.1" lengthAdjust="spacingAndGlyphs">25</text>
<text x="311.1" y="590.6" text-anchor="middle" font-family="'Liberation Sans', sans-serif" font-weight="bold" font-size="19.6" fill="#14141a" textLength="24.1" lengthAdjust="spacingAndGlyphs">30</text>
<text x="381.1" y="590.6" text-anchor="middle" font-family="'Liberation Sans', sans-serif" font-weight="bold" font-size="19.6" fill="#14141a" textLength="24.1" lengthAdjust="spacingAndGlyphs">35</text>
<text x="451.1" y="590.6" text-anchor="middle" font-family="'Liberation Sans', sans-serif" font-weight="bold" font-size="19.6" fill="#14141a" textLength="24.1" lengthAdjust="spacingAndGlyphs">40</text>
<text x="521.1" y="590.6" text-anchor="middle" font-family="'Liberation Sans', sans-serif" font-weight="bold" font-size="19.6" fill="#14141a" textLength="24.1" lengthAdjust="spacingAndGlyphs">45</text>
<text x="591.1" y="590.6" text-anchor="middle" font-family="'Liberation Sans', sans-serif" font-weight="bold" font-size="19.6" fill="#14141a" textLength="24.1" lengthAdjust="spacingAndGlyphs">50</text>
<text x="661.1" y="590.6" text-anchor="middle" font-family="'Liberation Sans', sans-serif" font-weight="bold" font-size="19.6" fill="#14141a" textLength="24.1" lengthAdjust="spacingAndGlyphs">55</text>
<text x="731.1" y="590.6" text-anchor="middle" font-family="'Liberation Sans', sans-serif" font-weight="bold" font-size="19.6" fill="#14141a" textLength="24.1" lengthAdjust="spacingAndGlyphs">60</text>
<text x="801.1" y="590.6" text-anchor="middle" font-family="'Liberation Sans', sans-serif" font-weight="bold" font-size="19.6" fill="#14141a" textLength="24.1" lengthAdjust="spacingAndGlyphs">65</text>
<text x="871.1" y="590.6" text-anchor="middle" font-family="'Liberation Sans', sans-serif" font-weight="bold" font-size="19.6" fill="#14141a" textLength="24.1" lengthAdjust="spacingAndGlyphs">70</text>
<text x="503" y="613.6" text-anchor="middle" font-family="'Liberation Sans', sans-serif" font-weight="bold" font-size="17.4" fill="#14141a" textLength="134.8" lengthAdjust="spacingAndGlyphs">Alter in Jahren</text>
<text transform="translate(77.3 458.4) rotate(-90)" text-anchor="middle" font-family="'Liberation Sans', sans-serif" font-weight="bold" font-size="17" fill="#14141a" textLength="235" lengthAdjust="spacingAndGlyphs">Effektivität der Leber in %</text>
<path d="M171.0 371.4C182.7 372.5 217.7 376.0 241.0 378.1C264.3 380.3 287.7 381.4 311.0 384.3C334.3 387.2 357.7 391.6 381.0 395.3C404.3 398.9 427.7 402.3 451.0 406.2C474.3 410.2 497.7 414.1 521.0 418.8C544.3 423.6 567.7 429.3 591.0 434.7C614.3 440.1 637.7 445.2 661.0 451.2C684.3 457.2 707.7 464.0 731.0 470.5C754.3 477.1 777.7 485.3 801.0 490.4C824.3 495.5 859.3 499.2 871.0 500.9" fill="none" stroke="#4395e5" stroke-width="6.3" stroke-linecap="round" stroke-linejoin="round"/>
</svg>
</body></html>
